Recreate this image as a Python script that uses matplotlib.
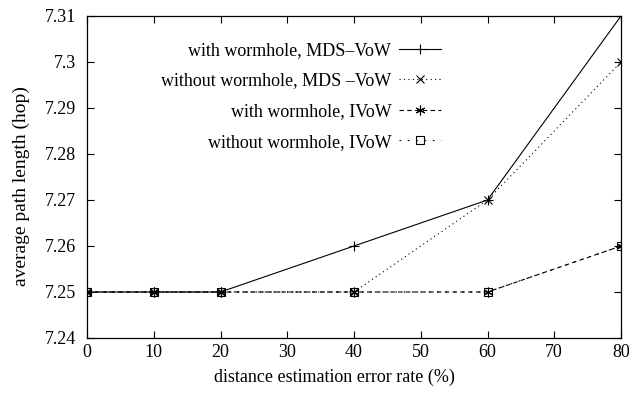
import matplotlib
matplotlib.use("Agg")
import matplotlib.pyplot as plt
from matplotlib.ticker import FuncFormatter

x = [0, 10, 20, 40, 60, 80]
with_mds = [7.25, 7.25, 7.25, 7.26, 7.27, 7.31]
without_mds = [7.25, 7.25, 7.25, 7.25, 7.27, 7.30]
with_ivow = [7.25, 7.25, 7.25, 7.25, 7.25, 7.26]
without_ivow = [7.25, 7.25, 7.25, 7.25, 7.25, 7.26]
labels = ["with wormhole, MDS\u2013VoW", "without wormhole, MDS \u2013VoW",
          "with wormhole, IVoW", "without wormhole, IVoW"]
xticks = [0, 10, 20, 30, 40, 50, 60, 70, 80]
yticks = [7.24, 7.25, 7.26, 7.27, 7.28, 7.29, 7.30, 7.31]

plt.rcParams['font.family'] = ['Liberation Serif', 'DejaVu Serif']

fig = plt.figure(figsize=(6.29, 3.99), dpi=100)
ax = fig.add_axes([87/629, 1-338/399, (621-87)/629, (338-16)/399])

lw = 0.8
ax.plot(x, with_mds, color='black', lw=lw, ls='-', marker='+', ms=7, mew=0.8, label=labels[0])
ax.plot(x, without_mds, color='black', lw=lw, ls=(0, (1, 3)), marker='x', ms=6, mew=0.8, label=labels[1])
ax.plot(x, with_ivow, color='black', lw=lw, ls=(0, (4, 3)), marker=(6, 2, 0), ms=7, mew=0.8, label=labels[2])
ax.plot(x, without_ivow, color='black', lw=lw, ls=(0, (1.5, 6)), marker='s', ms=6, mew=0.8,
        mfc='none', label=labels[3])

ax.set_xlim(0, 80)
ax.set_ylim(7.24, 7.31)
ax.set_xticks(xticks)
ax.set_yticks(yticks)
ax.yaxis.set_major_formatter(FuncFormatter(lambda v, p: f"{v:g}"))
ax.tick_params(direction='in', top=True, right=True, length=5, width=0.8, labelsize=13)
ax.tick_params(axis='x', pad=4)
ax.tick_params(axis='y', pad=8)
for s in ax.spines.values():
    s.set_linewidth(0.9)

ax.set_xlabel("distance estimation error rate (%)", fontsize=13)
ax.xaxis.set_label_coords((334 - 87) / 534, (338 - 369) / 322)
ax.set_ylabel("average path length (hop)", fontsize=14)
ax.yaxis.set_label_coords((30 - 87) / 534, (338 - 186) / 322)

leg = ax.legend(loc='upper right', bbox_to_anchor=(441/629, 1 - 42/399), bbox_transform=fig.transFigure,
                frameon=False, markerfirst=False, borderpad=0, borderaxespad=0,
                fontsize=13, handlelength=2.3, labelspacing=0.75, handletextpad=0.45)

fig.savefig("out.png", dpi=100)
